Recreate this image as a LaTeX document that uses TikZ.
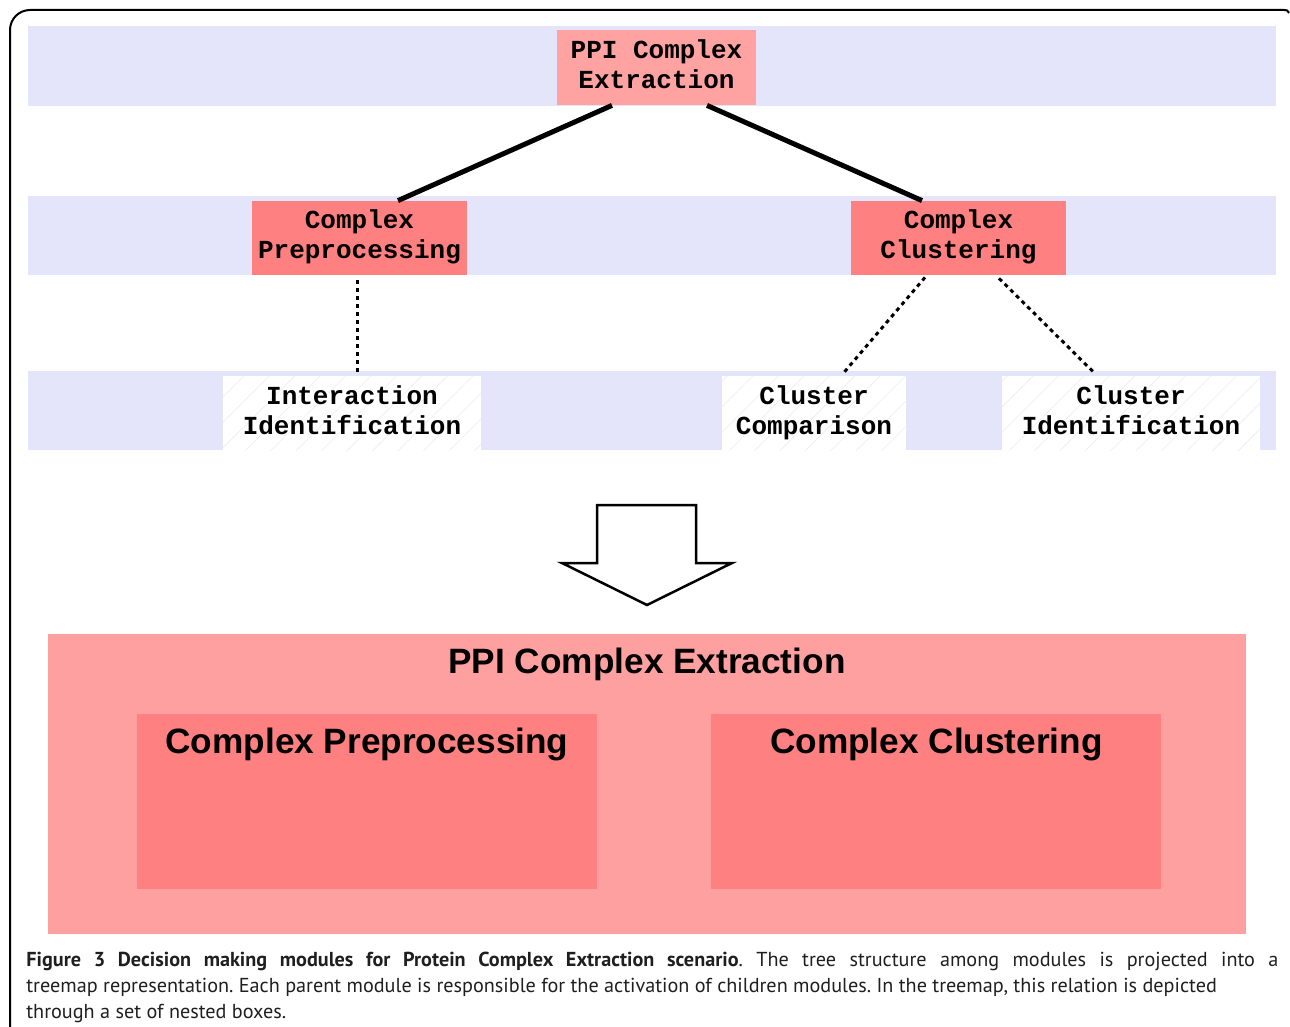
\documentclass[tikz,border=0pt]{standalone}
\usepackage{fontspec}
\setmainfont{Liberation Sans}
\newfontfamily\treefont{Liberation Mono}
\newfontfamily\capfont{PT Sans}
\usetikzlibrary{calc,patterns.meta}
\definecolor{band}{RGB}{228,228,251}
\definecolor{lightred}{RGB}{255,162,162}
\definecolor{midred}{RGB}{255,128,128}
\definecolor{mapouter}{RGB}{255,160,160}
\definecolor{mapinner}{RGB}{255,128,128}
\tikzset{
  bandbox/.style={fill=band, draw=none},
  treenode/.style={rectangle, inner sep=0pt, align=center,
    font=\treefont\bfseries\fontsize{13pt}{15pt}\selectfont},
  rootnode/.style={treenode, fill=lightred},
  midnode/.style={treenode, fill=midred},
  leafnode/.style={treenode, preaction={fill=white},
    pattern={Lines[angle=45,distance=9pt,line width=0.3pt]}, pattern color=black!7},
  solidlink/.style={line width=2.5pt},
  dashlink/.style={line width=1.5pt, dash pattern=on 2pt off 2pt},
  maptitle/.style={font=\bfseries\fontsize{17.6pt}{20pt}\selectfont, inner sep=0pt, anchor=center},
  capline/.style={anchor=base west, inner sep=0pt, font=\capfont\fontsize{10.1pt}{13pt}\selectfont\frenchspacing, text=black!88}
}
\begin{document}
\begin{tikzpicture}[x=0.5pt,y=-0.5pt]
\useasboundingbox (0,0) rectangle (1290,1027);
% frame
\draw[line width=1pt, rounded corners=10] (10,1027) -- (10,10) -- (1284,10);
\draw[line width=1pt] (1284,10) .. controls (1287,10) .. (1289,13);
% bands
\fill[bandbox] (28,26) rectangle (1276,106);
\fill[bandbox] (28,196) rectangle (1276,275);
\fill[bandbox] (28,371) rectangle (1276,450);
% tree nodes
\node[rootnode, minimum width=99.5pt, minimum height=37.5pt] (root) at (656.5,67.5) {PPI Complex\strut\\Extraction\strut};
\node[midnode, minimum width=107.5pt, minimum height=37pt] (cp) at (359.5,238) {Complex\strut\\Preprocessing\strut};
\node[midnode, minimum width=107.5pt, minimum height=37pt] (cc) at (958.5,238) {Complex\strut\\Clustering\strut};
\node[leafnode, minimum width=129pt, minimum height=37pt] (ii) at (352,413) {Interaction\strut\\Identification\strut};
\node[leafnode, minimum width=92pt, minimum height=37pt] (ccmp) at (814,413) {Cluster\strut\\Comparison\strut};
\node[leafnode, minimum width=129pt, minimum height=37pt] (cid) at (1131,413) {Cluster\strut\\Identification\strut};
% connectors
\draw[solidlink] ($(root.south)+(-44.5,0)$) -- ($(cp.north)+(38.5,0)$);
\draw[solidlink] ($(root.south)+(50.5,0)$) -- ($(cc.north)+(-36.5,0)$);
\draw[dashlink] ($(cp.south)+(-2.5,5)$) -- ($(ii.north)+(5,-4)$);
\draw[dashlink] ($(cc.south)+(-33.5,2)$) -- ($(ccmp.north)+(29,-2)$);
\draw[dashlink] ($(cc.south)+(40.5,3)$) -- ($(cid.north)+(-38,-4)$);
% big arrow
\draw[line width=1.25pt, line join=miter] (597,505) -- (696,505) -- (696,563) -- (732,563) -- (647,605) -- (562,563) -- (597,563) -- cycle;
% treemap
\fill[mapouter] (48,634) rectangle (1246,934);
\fill[mapinner] (137,714) rectangle (597,889);
\fill[mapinner] (711,714) rectangle (1161,889);
\node[maptitle] (t1) at (647,664) {PPI Complex Extraction};
\node[maptitle] (t2) at (367,744) {Complex Preprocessing};
\node[maptitle] (t3) at (936.5,744) {Complex Clustering};
% caption
\node[capline] (c1) at (26,966) {\makebox[626pt][s]{\bfseries Figure 3 Decision making modules for Protein Complex Extraction scenario\mdseries. The tree structure among modules is projected into a}};
\node[capline] (c2) at (26,992) {treemap representation. Each parent module is responsible for the activation of children modules. In the treemap, this relation is depicted};
\node[capline] (c3) at (26,1018) {through a set of nested boxes.};
\end{tikzpicture}
\end{document}
